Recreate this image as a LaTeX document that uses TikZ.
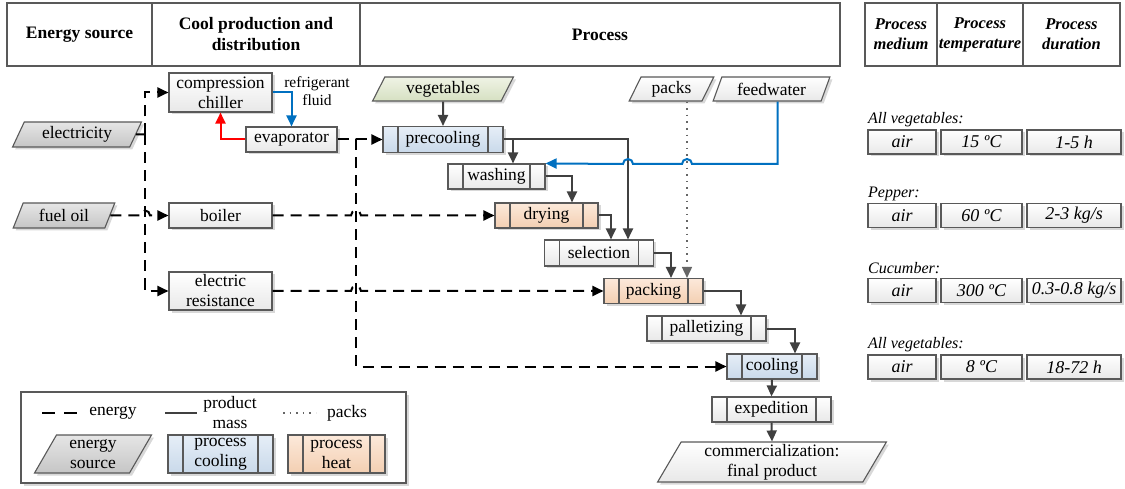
\documentclass[tikz,border=0pt]{standalone}
\usepackage{fontspec}
\setmainfont{Liberation Serif}
\usetikzlibrary{arrows.meta,shapes.geometric,shadows}

\definecolor{linegray}{HTML}{404040}
\definecolor{boxgray}{HTML}{595959}
\definecolor{waterblue}{HTML}{0070C0}
\definecolor{coolA}{HTML}{E6EEF7}
\definecolor{coolB}{HTML}{C9D9EA}
\definecolor{heatA}{HTML}{FCE9DA}
\definecolor{heatB}{HTML}{F3CFB2}
\definecolor{vegA}{HTML}{EFF3E5}
\definecolor{vegB}{HTML}{D6E0C2}

\newcommand{\mainfs}{\fontsize{17.5}{20}\selectfont}
\newcommand{\headfs}{\fontsize{17.5}{21}\selectfont\bfseries}
\newcommand{\rheadfs}{\fontsize{16.5}{20}\selectfont\bfseries\itshape}
\newcommand{\tabfs}{\fontsize{18}{20}\selectfont\itshape}
\newcommand{\labfs}{\fontsize{16}{18}\selectfont\itshape}
\newcommand{\refrfs}{\fontsize{15.5}{18}\selectfont}

\tikzset{
  box/.style={draw=boxgray,line width=1.1pt,top color=white,bottom color=gray!18,
    drop shadow={shadow xshift=2.5pt,shadow yshift=-2.5pt,fill=black!30},
    minimum height=25pt,inner sep=0pt,align=center,font=\mainfs},
  procbox/.style={box,path picture={
    \draw[boxgray,line width=1.1pt]
      ([xshift=15pt]path picture bounding box.north west) -- ([xshift=15pt]path picture bounding box.south west)
      ([xshift=-15pt]path picture bounding box.north east) -- ([xshift=-15pt]path picture bounding box.south east);}},
  coolbox/.style={procbox,top color=coolA,bottom color=coolB},
  heatbox/.style={procbox,top color=heatA,bottom color=heatB},
  inbox/.style={box,trapezium,trapezium left angle=64,trapezium right angle=116,trapezium stretches=true},
  srcbox/.style={inbox,top color=gray!20,bottom color=gray!45},
  vegbox/.style={inbox,top color=vegA,bottom color=vegB},
  tabbox/.style={box,minimum height=24pt,font=\tabfs},
  headcell/.style={draw=boxgray,line width=1.1pt,minimum height=63pt,inner sep=0pt,align=center,font=\headfs},
  rheadcell/.style={headcell,font=\rheadfs},
  tip/.style={-{Triangle[length=11pt,width=10pt]}},
  energyline/.style={black,line width=2pt,dash pattern=on 11pt off 7pt},
  energy/.style={energyline,tip},
  flowline/.style={linegray,line width=2pt},
  flow/.style={flowline,tip},
  water/.style={waterblue,line width=2pt,tip},
  backflow/.style={red,line width=2pt,tip},
  packdots/.style={gray!80!black,line width=1.6pt,dash pattern=on 1.6pt off 5pt},
  packline/.style={packdots,tip}
}

\begin{document}
\begin{tikzpicture}[x=1pt,y=-1pt,every node/.style={font=\mainfs}]
\useasboundingbox (0,0) rectangle (1125,489);
% header
\node[headcell,minimum width=145pt] (hd1) at (79.5,34.5) {Energy source};
\node[headcell,minimum width=208pt] (hd2) at (256,34.5) {Cool production and\\distribution};
\node[headcell,minimum width=480pt] (hd3) at (600,34.5) {Process};
\node[rheadcell,minimum width=72pt] (rh1) at (901,34.5) {Process\\medium};
\node[rheadcell,minimum width=86pt] (rh2) at (980,34.5) {Process\\temperature};
\node[rheadcell,minimum width=97pt] (rh3) at (1071.5,34.5) {Process\\duration};
% energy sources and cool production
\node[srcbox,minimum width=130pt] (elec) at (77,134.5) {electricity};
\node[srcbox,minimum width=102pt] (fuel) at (64,215.5) {fuel oil};
\node[box,minimum width=103pt,minimum height=39pt] (chiller) at (220.5,92.5) {compression\\chiller};
\node[box,minimum width=91pt] (evap) at (291.5,139.5) {evaporator};
\node[box,minimum width=103pt] (boiler) at (220.5,215.5) {boiler};
\node[box,minimum width=103pt,minimum height=38pt] (resist) at (220.5,291) {electric\\resistance};
\node[align=center,font=\refrfs] (refr) at (317,91) {refrigerant\\fluid};
\coordinate (ebus) at (145,134.5);
% process chain
\node[vegbox,minimum width=142pt,minimum height=24pt] (veg) at (443,89) {vegetables};
\node[inbox,minimum width=85pt,minimum height=24pt] (packs) at (671.5,89) {packs};
\node[inbox,minimum width=117pt,minimum height=24pt] (feed) at (771.5,89) {feedwater};
\node[coolbox,minimum width=120pt,minimum height=26pt] (precool) at (443,139.5) {precooling};
\node[procbox,minimum width=97pt] (wash) at (496.5,176.5) {washing};
\node[heatbox,minimum width=103pt] (dry) at (546.5,215.5) {drying};
\node[procbox,minimum width=109pt,minimum height=26pt] (select) at (599,253) {selection};
\node[heatbox,minimum width=99pt] (pack) at (653.5,291) {packing};
\node[procbox,minimum width=119pt] (pallet) at (706.5,328.5) {palletizing};
\node[coolbox,minimum width=90pt] (cool) at (772,366.5) {cooling};
\node[procbox,minimum width=119pt] (exped) at (771.5,409.5) {expedition};
\node[inbox,minimum width=229pt,minimum height=40pt] (comm) at (772,462) {commercialization:\\final product};
% energy connectors
\draw[energyline] (elec.east) -- (ebus);
\draw[energy] (ebus) |- (chiller.west);
\draw[energy] (ebus) |- (resist.west);
\draw[energy] (fuel.east) -- (140,215.5) arc[start angle=180,end angle=0,radius=5pt] -- (boiler.west);
\draw[energy] (boiler.east) -- (351,215.5) arc[start angle=180,end angle=0,radius=5pt] -- (dry.west);
\draw[energy] (resist.east) -- (351,291) arc[start angle=180,end angle=0,radius=5pt] -- (pack.west);
\draw[energy] (evap.east) -- (precool.west);
\draw[energy] (evap.east) -- (356,139.5) |- (cool.west);
% refrigerant loop
\draw[water] (chiller.east) -| (evap.north);
\draw[backflow] (evap.west) -| (chiller.south);
% product mass
\draw[flow] (veg.south) -- (precool.north);
\draw[flow] (precool.east) -| ([xshift=16.5pt]wash.north);
\draw[flow] (precool.east) -| ([xshift=29pt]select.north);
\draw[flow] (wash.east) -| ([xshift=25.5pt]dry.north);
\draw[flow] (dry.east) -| ([xshift=12pt]select.north);
\draw[flow] (select.east) -| ([xshift=17.5pt]pack.north);
\draw[flow] (pack.east) -| ([xshift=34.5pt]pallet.north);
\draw[flow] (pallet.east) -| ([xshift=23pt]cool.north);
\draw[flow] (cool.south) -- (exped.north);
\draw[flow] (exped.south) -- (comm.north);
\draw[packline] ([xshift=15.5pt]packs.south) -- ([xshift=15.5pt]packs.south |- pack.north);
\draw[water] ([xshift=6pt]feed.south) |- (692,164) arc[start angle=0,end angle=180,radius=5pt]
  -- (633,164) arc[start angle=0,end angle=180,radius=5pt] -- (wash.north east);
% process conditions
\foreach \y/\lab/\tmp/\dur [count=\i] in {142/{All vegetables:}/{15 ºC}/{1-5 h},
    215.5/{Pepper:}/{60 ºC}/{2-3 kg/s}, 290.5/{Cucumber:}/{300 ºC}/{0.3-0.8 kg/s},
    367/{All vegetables:}/{8 ºC}/{18-72 h}}{
  \node[anchor=west,font=\labfs,inner sep=0pt] (lab\i) at (868,\y-22) {\lab};
  \node[tabbox,minimum width=68pt] (med\i) at (902,\y) {air};
  \node[tabbox,minimum width=81pt] (tmp\i) at (981.5,\y) {\tmp};
  \node[tabbox,minimum width=94pt] (dur\i) at (1074,\y) {\dur};
}
% legend
\node[draw=boxgray,line width=1.1pt,fill=white,drop shadow={shadow xshift=2.5pt,shadow yshift=-2.5pt,fill=black!30},
  minimum width=385pt,minimum height=91pt] (legend) at (213.5,437.5) {};
\draw[energyline,dash pattern=on 13pt off 9pt] (42,413) -- (78,413);
\node (lgenergy) at (113,413) {energy};
\draw[flowline] (165,413) -- (197,413);
\node[align=center] (lgmass) at (230,412.5) {product\\mass};
\draw[packdots] (283,413) -- (316,413);
\node (lgpacks) at (347,413) {packs};
\node[srcbox,minimum width=117pt,minimum height=38pt] (lgsrc) at (93,454) {energy\\source};
\node[coolbox,minimum width=105pt,minimum height=38pt] (lgcool) at (220.5,454) {process\\cooling};
\node[heatbox,minimum width=97pt,minimum height=38pt] (lgheat) at (336.5,454) {process\\heat};
\end{tikzpicture}
\end{document}
